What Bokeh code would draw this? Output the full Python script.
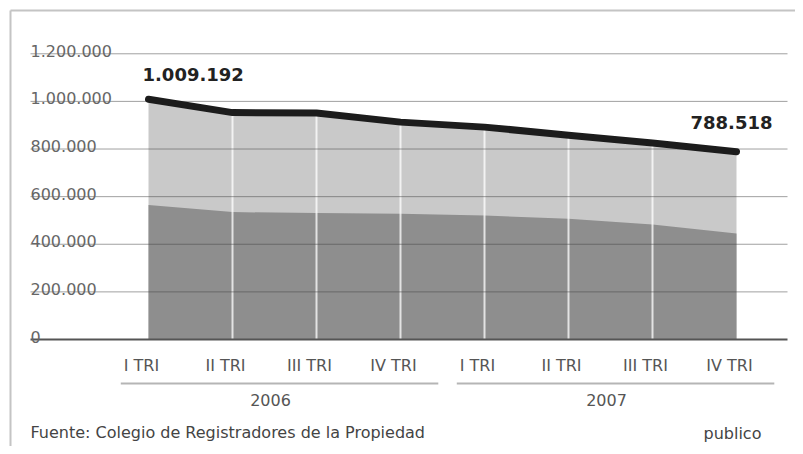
from bokeh.plotting import figure
from bokeh.models import Range1d, ColumnDataSource
from bokeh.core.properties import value
from bokeh.embed import file_html
from bokeh.resources import INLINE

# ---- data ----
years = ["2006", "2007"]
quarters = ["I TRI", "II TRI", "III TRI", "IV TRI", "I TRI", "II TRI", "III TRI", "IV TRI"]
quarter_year = ["2006", "2006", "2006", "2006", "2007", "2007", "2007", "2007"]
total = [1009192, 953000, 951000, 913000, 892000, 858000, 825000, 788518]
lower = [565000, 535000, 531000, 528000, 521000, 507000, 483000, 445000]
y_ticks = [0, 200000, 400000, 600000, 800000, 1000000, 1200000]
source_text = "Fuente: Colegio de Registradores de la Propiedad"
brand_text = "publico"

# ---- layout constants (screenshot pixels) ----
W, H = 795, 446
ORG = 0                         # where the canvas lands in the screenshot
X0_PX, DX_PX = 148, 84          # x of first quarter, px per quarter
Y0_PX, VAL_PER_PX = 339, 4200   # y of value 0, value per pixel
FONT = value("DejaVu Sans")


def xd(px):
    return (px - X0_PX) / DX_PX


def yd(py):
    return (Y0_PX - py) * VAL_PER_PX


def fmt(v):
    return f"{v:,}".replace(",", ".")


p = figure(width=W, height=H, output_backend="svg", toolbar_location=None,
           x_axis_type=None, y_axis_type=None,
           x_range=Range1d(xd(ORG), xd(ORG + W)), y_range=Range1d(yd(ORG + H), yd(ORG)),
           min_border=0, outline_line_color=None, background_fill_color="white")

idx = list(range(len(quarters)))
src = ColumnDataSource(dict(x=idx, total=total, lower=lower, zero=[0] * len(idx)))

# areas
p.varea(x="x", y1="zero", y2="total", source=src, fill_color="#c9c9c9")
p.varea(x="x", y1="zero", y2="lower", source=src, fill_color="#8e8e8e")

# white separators inside areas
sep_x = idx[1:-1]
p.segment(x0=sep_x, y0=[0] * len(sep_x), x1=sep_x, y1=total[1:-1],
          line_color="white", line_width=2, line_alpha=0.75)

# gridlines
gx0, gx1 = xd(30), xd(787)
p.segment(x0=[gx0] * (len(y_ticks) - 1), y0=y_ticks[1:], x1=[gx1] * (len(y_ticks) - 1),
          y1=y_ticks[1:], line_color="#444444", line_alpha=0.5, line_width=1)
p.segment(x0=[gx0], y0=[0], x1=[gx1], y1=[0], line_color="#555555", line_width=2)

# y tick labels
p.text(x=[gx0] * len(y_ticks), y=y_ticks, text=[fmt(v) for v in y_ticks],
       text_font=FONT, text_font_size="16px", text_color="#666666",
       text_align="left", text_baseline="alphabetic", y_offset=-3)

# total line
p.line(x="x", y="total", source=src, line_color="#1c1c1c", line_width=7,
       line_cap="round", line_join="round")

# value labels for first and last points
p.text(x=[idx[0]], y=[total[0]], text=[fmt(total[0])], text_font=FONT,
       text_font_style="bold", text_font_size="18px", text_color="#222222",
       text_align="left", text_baseline="middle", x_offset=-6, y_offset=-25)
p.text(x=[idx[-1]], y=[total[-1]], text=[fmt(total[-1])], text_font=FONT,
       text_font_style="bold", text_font_size="18px", text_color="#222222",
       text_align="right", text_baseline="middle", x_offset=36, y_offset=-29)

# quarter labels
p.text(x=idx, y=[0] * len(idx), text=quarters, text_font=FONT,
       text_font_size="16px", text_color="#555555", text_align="center",
       text_baseline="middle", x_offset=-7, y_offset=26)

# year group lines and labels
year_x, line_x0, line_x1 = [], [], []
for yr in years:
    members = [i for i, q in enumerate(quarter_year) if q == yr]
    year_x.append(sum(members) / len(members))
    line_x0.append(members[0] - 0.33)
    line_x1.append(min(members[-1] + 0.45, gx1))
ly = yd(383)
p.segment(x0=line_x0, y0=[ly] * len(years), x1=line_x1, y1=[ly] * len(years),
          line_color="#b5b5b5", line_width=2)
p.text(x=year_x, y=[0] * len(years), text=years, text_font=FONT,
       text_font_size="16px", text_color="#555555", text_align="center",
       text_baseline="middle", x_offset=-4, y_offset=60)

# footer
p.text(x=[gx0], y=[0], text=[source_text], text_font=FONT, text_font_size="16px",
       text_color="#444444", text_align="left", text_baseline="middle", y_offset=93)
p.text(x=[xd(703)], y=[0], text=[brand_text], text_font=FONT, text_font_size="16px",
       text_color="#444444", text_align="left", text_baseline="middle", y_offset=94)

# outer frame (top and left)
bx, by = xd(10), yd(10)
p.segment(x0=[bx, bx], y0=[by, by], x1=[xd(ORG + W), bx], y1=[by, yd(ORG + H)],
          line_color="#c4c4c4", line_width=2)

open("out.html", "w").write(file_html(p, INLINE))
